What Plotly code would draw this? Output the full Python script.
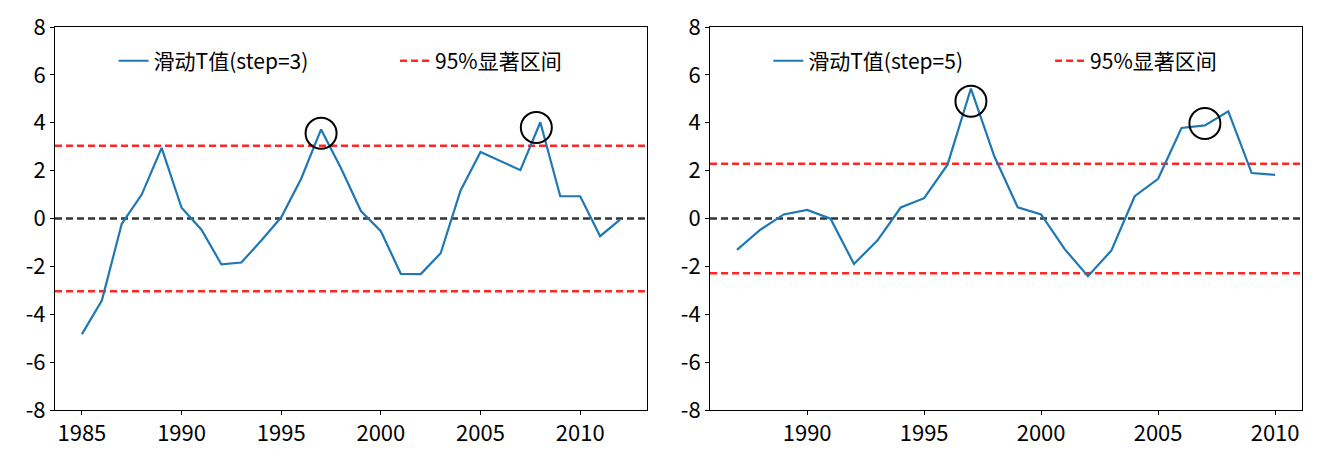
import plotly.graph_objects as go
from plotly.subplots import make_subplots

# step=3 sliding t-test
years3 = list(range(1985, 2013))
t3 = [-4.83, -3.43, -0.22, 1.0, 2.95, 0.45, -0.47, -1.92, -1.84, -0.92,
      0.05, 1.66, 3.72, 2.1, 0.31, -0.53, -2.31, -2.32, -1.45, 1.17,
      2.78, 2.4, 2.02, 4.02, 0.93, 0.93, -0.74, -0.05]
thr3 = 3.04
circ3_x = [1997, 2007.8]
circ3_y = [3.56, 3.8]

# step=5 sliding t-test
years5 = list(range(1987, 2011))
t5 = [-1.31, -0.47, 0.17, 0.36, -0.01, -1.9, -0.92, 0.46, 0.85, 2.25,
      5.43, 2.6, 0.47, 0.17, -1.27, -2.41, -1.34, 0.93, 1.66, 3.78,
      3.89, 4.48, 1.9, 1.82]
thr5 = 2.29
circ5_x = [1997, 2007]
circ5_y = [4.9, 3.97]

yticks = [-8, -6, -4, -2, 0, 2, 4, 6, 8]
ytext = [str(v) for v in yticks]

BLUE = "#1f77b4"
RED = "rgba(255,0,0,0.85)"
FONT = "Noto Sans CJK SC"
DASH = "7px,4px"

fig = make_subplots(rows=1, cols=2, horizontal_spacing=0.0506)

panels = [
    (1, years3, t3, thr3, circ3_x, circ3_y, "滑动T值(step=3)", ("legend", "legend2"), [1983.65, 2013.35]),
    (2, years5, t5, thr5, circ5_x, circ5_y, "滑动T值(step=5)", ("legend3", "legend4"), [1985.85, 2011.15]),
]

for col, xs, ys, thr, cx, cy, label, legs, xr in panels:
    fig.add_trace(go.Scatter(
        x=xs, y=ys, mode="lines", name=label, legend=legs[0],
        line=dict(color=BLUE, width=2.2)
    ), row=1, col=col)
    # empty trace, only for the red dashed legend entry
    fig.add_trace(go.Scatter(
        x=[None], y=[None], mode="lines", name="95%显著区间", legend=legs[1],
        line=dict(color=RED, width=2.4, dash=DASH)
    ), row=1, col=col)
    fig.add_trace(go.Scatter(
        x=cx, y=cy, mode="markers", showlegend=False,
        marker=dict(symbol="circle-open", size=31, color="black",
                    line=dict(width=2, color="black"))
    ), row=1, col=col)
    xref = "x" if col == 1 else "x2"
    yref = "y" if col == 1 else "y2"
    for yv, c in [(thr, RED), (-thr, RED), (0, "rgba(0,0,0,0.8)")]:
        fig.add_shape(type="line", xref=f"{xref} domain", yref=yref,
                      x0=0, x1=1, y0=yv, y1=yv,
                      line=dict(color=c, width=2.4, dash=DASH), layer="below")
    fig.update_xaxes(range=xr, tickvals=[1985, 1990, 1995, 2000, 2005, 2010],
                     row=1, col=col)
    fig.update_yaxes(range=[-8, 8], tickvals=yticks, ticktext=ytext,
                     row=1, col=col)

axis_style = dict(showgrid=False, zeroline=False, showline=True, mirror=True,
                  linecolor="black", linewidth=1, ticks="outside", ticklen=4,
                  tickcolor="black", automargin=False,
                  tickfont=dict(size=22, color="black"))
fig.update_xaxes(**axis_style)
fig.update_yaxes(**axis_style)

leg_common = dict(orientation="h", yanchor="middle", xanchor="left", y=0.911,
                  bgcolor="rgba(0,0,0,0)", font=dict(size=21, color="black"))
fig.update_layout(
    width=1321, height=464,
    font=dict(family=FONT, color="black"),
    plot_bgcolor="white", paper_bgcolor="white",
    margin=dict(l=47, r=27, t=19, b=62),
    legend=dict(x=0.047, **leg_common),
    legend2=dict(x=0.2727, **leg_common),
    legend3=dict(x=0.572, **leg_common),
    legend4=dict(x=0.798, **leg_common),
)

fig.write_html("out.html")
